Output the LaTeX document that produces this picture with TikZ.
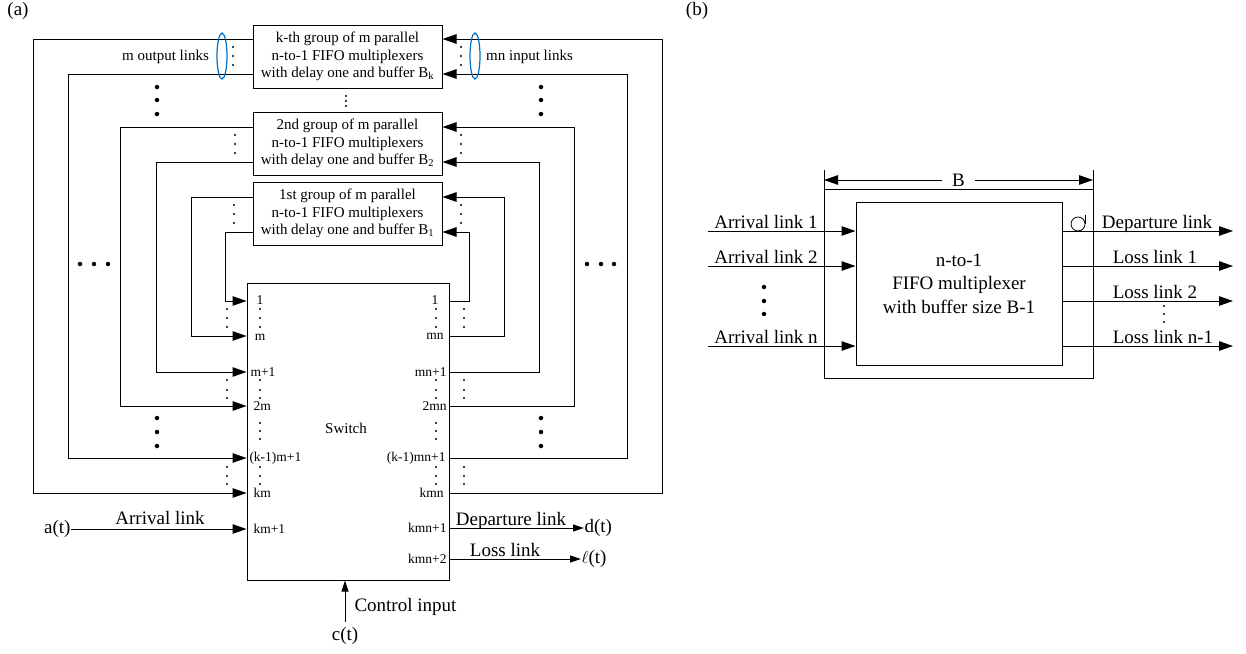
\documentclass[tikz,border=0pt]{standalone}
\usepackage{fontspec}
\setmainfont{Liberation Serif}
\usetikzlibrary{arrows.meta}
\definecolor{ellblue}{RGB}{0,112,192}
\begin{document}
\begin{tikzpicture}[x=1pt,y=-1pt, line width=1pt,
  >={Triangle[length=14pt,width=9.5pt]},
  sarr/.style={-{Triangle[length=11pt,width=7pt]}},
  grp/.style={draw, minimum width=189pt, minimum height=63pt, inner sep=0pt, align=center, font=\fontsize{15}{17.5}\selectfont},
  port/.style={font=\fontsize{13.5}{14}\selectfont, inner sep=0pt},
  big/.style={font=\fontsize{19}{23.5}\selectfont, inner sep=0pt},
  lbl/.style={font=\fontsize{15}{17}\selectfont, inner sep=0pt},
  sd/.style={circle, fill, inner sep=0pt, minimum size=2.4pt},
  bd/.style={circle, fill, inner sep=0pt, minimum size=4.5pt},
  ell/.style={draw=ellblue, line width=1.2pt},
]
\useasboundingbox (0,0) rectangle (1246,653);

% ---------------- (a) ----------------
\node[big] (la) at (18,11) {(a)};
\node[grp] (Bk) at (347.5,56.5) {k-th group of m parallel\\n-to-1 FIFO multiplexers\\with delay one and buffer B\textsubscript{k}};
\node[grp] (B2) at (347.5,143.5) {2nd group of m parallel\\n-to-1 FIFO multiplexers\\with delay one and buffer B\textsubscript{2}};
\node[grp] (B1) at (347.5,213.5) {1st group of m parallel\\n-to-1 FIFO multiplexers\\with delay one and buffer B\textsubscript{1}};
\node[draw, minimum width=202pt, minimum height=297pt, inner sep=0pt] (Sw) at (348,431.5) {};
\node[lbl] (swl) at (346,428) {Switch};

% outputs of groups to switch inputs
\draw[->] (Bk.west |- 0,39)  -| (33,493)  -- (Sw.west |- 0,493);
\draw[->] (Bk.west |- 0,74)  -| (68,458)  -- (Sw.west |- 0,458);
\draw[->] (B2.west |- 0,127) -| (120,406) -- (Sw.west |- 0,406);
\draw[->] (B2.west |- 0,162) -| (156,372) -- (Sw.west |- 0,372);
\draw[->] (B1.west |- 0,197) -| (191,336) -- (Sw.west |- 0,336);
\draw[->] (B1.west |- 0,232) -| (225,301) -- (Sw.west |- 0,301);
% switch outputs to group inputs
\draw[->] (Sw.east |- 0,301) -| (469,232) -- (B1.east |- 0,232);
\draw[->] (Sw.east |- 0,336) -| (504,197) -- (B1.east |- 0,197);
\draw[->] (Sw.east |- 0,372) -| (539,162) -- (B2.east |- 0,162);
\draw[->] (Sw.east |- 0,406) -| (574,127) -- (B2.east |- 0,127);
\draw[->] (Sw.east |- 0,458) -| (627,74)  -- (Bk.east |- 0,74);
\draw[->] (Sw.east |- 0,493) -| (662,39)  -- (Bk.east |- 0,39);

% ellipses and link labels
\draw[ell] (222,56) ellipse [x radius=5, y radius=23];
\draw[ell] (475,56) ellipse [x radius=5, y radius=23];
\node[lbl] (mout) at (165.5,57) {m output links};
\node[lbl] (min) at (529.5,57) {mn input links};

% small dots beside the group boxes
\foreach \x/\y in {233/47,233/56,233/65, 461/47,461/56,461/65,
                   235/135,235/144,235/153, 461/135,461/144,461/153,
                   234/205,234/214,234/223, 461/205,461/214,461/223,
                   346/96,346/101,346/106}
  \node[sd] at (\x,\y) {};
% small dots at the switch ports
\foreach \x in {227,260,436,464}
  \foreach \y in {309,318,327, 380,390,398, 467,476,484}
    \node[sd] at (\x,\y) {};
\foreach \x in {260,436}
  \foreach \y in {423,431,439}
    \node[sd] at (\x,\y) {};
% big dots
\foreach \x/\y in {157/87,157/100,157/114, 541/87,541/100,541/114,
                   157/418,157/432,157/446, 541/418,541/432,541/446,
                   80/264,94/264,108/264, 587/264,601/264,614/264}
  \node[bd] at (\x,\y) {};

% switch port labels
\node[port] at (260,300) {1};
\node[port] at (260,337) {m};
\node[port, anchor=west] at (250,372) {m+1};
\node[port, anchor=west] at (253,406) {2m};
\node[port, anchor=west] at (249,458) {(k-1)m+1};
\node[port, anchor=west] at (253,493) {km};
\node[port, anchor=west] at (253,529) {km+1};
\node[port] at (435,300) {1};
\node[port, anchor=east] at (444,336) {mn};
\node[port, anchor=east] at (447,372) {mn+1};
\node[port, anchor=east] at (447,406) {2mn};
\node[port, anchor=east] at (446,458) {(k-1)mn+1};
\node[port, anchor=east] at (444,493) {kmn};
\node[port, anchor=east] at (447,528) {kmn+1};
\node[port, anchor=east] at (447,559) {kmn+2};

% external links
\node[big, anchor=east] (at) at (71,529) {a(t)};
\draw[->] (at.east) -- (Sw.west |- at.east);
\node[big, anchor=base] at (160,524) {Arrival link};
\node[big, anchor=west] (dt) at (584,528) {d(t)};
\draw[sarr] (Sw.east |- dt.west) -- (dt.west);
\node[big, anchor=base] at (511,525) {Departure link};
\node[big, anchor=west] (lt) at (581,559) {$\ell$(t)};
\draw[sarr] (Sw.east |- lt.west) -- (lt.west);
\node[big, anchor=base] at (505,556) {Loss link};
\node[big] (ct) at (345,636) {c(t)};
\draw[sarr] (345,622) -- (Sw.south -| 345,0);
\node[big, anchor=west] at (354,607) {Control input};

% ---------------- (b) ----------------
\node[big] (lb) at (697,11) {(b)};
\draw (824,170) -- (824,378) -- (1093,378) -- (1093,170);
\draw (824,189) -- (1093,189);
\draw[<->] (824,180) -- (1093,180) node[midway, big, fill=white, inner xsep=10pt, inner ysep=1pt] {B};
\node[draw, minimum width=206pt, minimum height=163pt, inner sep=0pt, align=center, big] (mux) at (959,283.5) {n-to-1\\FIFO multiplexer\\with buffer size B-1};

\foreach \y/\t in {231/Arrival link 1, 266/Arrival link 2, 346/Arrival link n} {
  \coordinate (a\y) at (708,\y);
  \draw[->] (a\y) -- (mux.west |- a\y);
  \node[big, anchor=base] at (766,\y-3) {\t};
}
\foreach \y in {287,301,314} \node[bd] at (764,\y) {};

\foreach \y in {231,266,301,346} {
  \coordinate (o\y) at (1233,\y);
  \draw[->] (mux.east |- o\y) -- (o\y);
}
\node[big, anchor=base] at (1157,228) {Departure link};
\node[big, anchor=base] at (1155,263) {Loss link 1};
\node[big, anchor=base] at (1155,298) {Loss link 2};
\node[big, anchor=base] at (1163,343) {Loss link n-1};
\foreach \y in {306,314,322} \node[sd] at (1164,\y) {};
\draw[line width=0.8pt] (1078,224) circle [radius=7];
\draw[line width=0.8pt] (1085.5,215) -- (1085.5,224);
\end{tikzpicture}
\end{document}
